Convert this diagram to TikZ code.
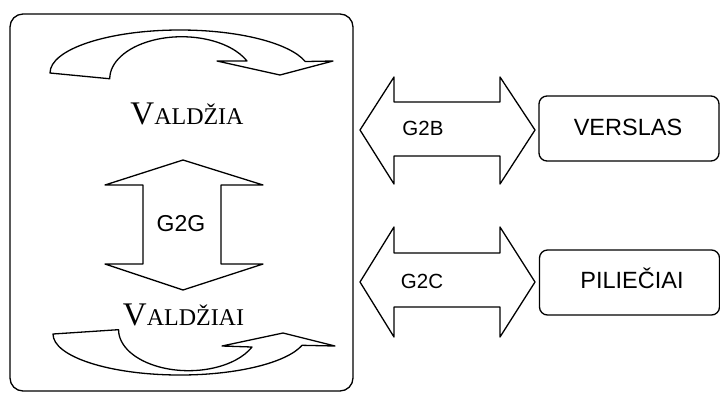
\documentclass[tikz,border=0pt]{standalone}
\usepackage{fontspec}
\setmainfont{Liberation Serif}
\newfontfamily\arial{Liberation Sans}
\begin{document}
\begin{tikzpicture}[x=1pt,y=-1pt,
  outline/.style={draw=black,line width=1.3pt,line join=round},
  sanslabel/.style={font=\arial\fontsize{20.5}{20.5}\selectfont,anchor=base,inner sep=0pt},
  boxlabel/.style={font=\arial\fontsize{23.5}{23.5}\selectfont,anchor=base,inner sep=0pt},
  partybox/.style={draw=black,line width=1.3pt,rounded corners=8pt,minimum width=180pt,minimum height=65pt,inner sep=0pt}]
\useasboundingbox (0,0) rectangle (720,392);
% big government frame
\node[draw=black,line width=1.3pt,rounded corners=13pt,minimum width=343pt,minimum height=377pt,inner sep=0pt] (gov) at (181.5,202.5) {};
% top curved arrow
\draw[outline] (50,73) arc[start angle=180,end angle=344.5,x radius=130,y radius=43]
  -- (333,61) -- (280,75) -- (217,61) -- (247,61)
  arc[start angle=335,end angle=180,x radius=72,y radius=42] -- cycle;
% bottom curved arrow
\draw[outline] (53,334) arc[start angle=180,end angle=16,x radius=127,y radius=41]
  -- (335,346) -- (283,333) -- (222,346) -- (252,347)
  arc[start angle=25,end angle=180,x radius=70,y radius=41] -- cycle;
% vertical G2G double arrow
\draw[outline] (183,160) -- (263,185) -- (221,185) -- (221,264) -- (263,264) -- (183,290)
  -- (105,264) -- (143,264) -- (143,185) -- (105,185) -- cycle;
% G2B double arrow
\draw[outline] (360,130) -- (394,77) -- (394,102) -- (500,102) -- (500,77) -- (535,130)
  -- (500,184) -- (500,156) -- (394,156) -- (394,184) -- cycle;
% G2C double arrow
\draw[outline] (360,282) -- (394,227) -- (394,253) -- (500,253) -- (500,227) -- (535,282)
  -- (500,337) -- (500,307) -- (394,307) -- (394,337) -- cycle;
% texts
\node[anchor=base,inner sep=0pt] (valdzia) at (187,124) {\fontsize{33}{33}\selectfont V\fontsize{24}{24}\selectfont ALDŽIA};
\node[anchor=base,inner sep=0pt] (valdziai) at (183.5,325) {\fontsize{33}{33}\selectfont V\fontsize{24}{24}\selectfont ALDŽIAI};
\node[sanslabel,font=\arial\fontsize{23}{23}\selectfont] (g2g) at (181,231.5) {G2G};
\node[sanslabel] (g2b) at (423,135) {G2B};
\node[sanslabel] (g2c) at (422,288.5) {G2C};
% party boxes
\node[partybox] (verslas) at (629,128.5) {};
\node[boxlabel] (verslasT) at (628,135.5) {VERSLAS};
\node[partybox] (pilieciai) at (629.5,282.5) {};
\node[boxlabel] (pilieciaiT) at (632,288.5) {PILIEČIAI};
\end{tikzpicture}
\end{document}
